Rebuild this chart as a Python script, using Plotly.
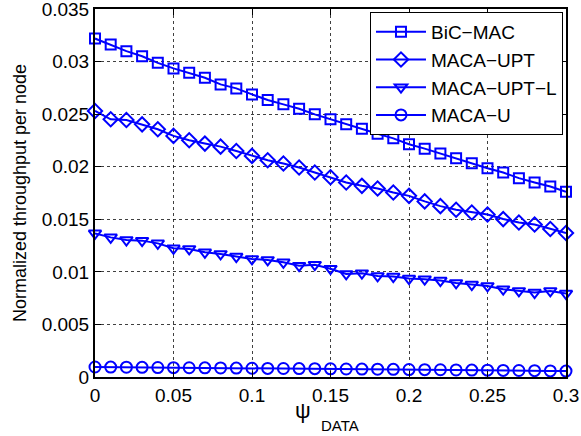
import plotly.graph_objects as go

psi = [round(0.01 * i, 2) for i in range(31)]

bic_mac = [0.03219, 0.03162, 0.03099, 0.03051, 0.02988, 0.02935, 0.02893, 0.02846, 0.02783, 0.02745,
           0.02688, 0.02634, 0.02593, 0.02551, 0.02498, 0.02451, 0.02403, 0.02362, 0.02314, 0.02270,
           0.02214, 0.02172, 0.02125, 0.02081, 0.02034, 0.01986, 0.01945, 0.01891, 0.01850, 0.01812, 0.01761]
maca_upt = [0.02530, 0.02451, 0.02444, 0.02403, 0.02356, 0.02293, 0.02252, 0.02220, 0.02191, 0.02150,
            0.02103, 0.02062, 0.02030, 0.01992, 0.01945, 0.01900, 0.01850, 0.01818, 0.01793, 0.01755,
            0.01723, 0.01670, 0.01625, 0.01591, 0.01565, 0.01545, 0.01502, 0.01470, 0.01450, 0.01408, 0.01370]
maca_upt_l = [0.01366, 0.01328, 0.01303, 0.01297, 0.01271, 0.01224, 0.01218, 0.01186, 0.01170, 0.01145,
              0.01123, 0.01113, 0.01091, 0.01059, 0.01068, 0.01030, 0.00980, 0.00987, 0.00961, 0.00955,
              0.00936, 0.00930, 0.00917, 0.00895, 0.00879, 0.00866, 0.00835, 0.00819, 0.00803, 0.00819, 0.00794]
maca_u = [0.00095, 0.00094, 0.00093, 0.00092, 0.00090, 0.00089, 0.00088, 0.00087, 0.00086, 0.00085,
          0.00083, 0.00082, 0.00081, 0.00080, 0.00079, 0.00078, 0.00076, 0.00075, 0.00074, 0.00073,
          0.00071, 0.00070, 0.00069, 0.00067, 0.00066, 0.00065, 0.00063, 0.00062, 0.00060, 0.00058, 0.00056]

names = ["BiC\u2212MAC", "MACA\u2212UPT", "MACA\u2212UPT\u2212L", "MACA\u2212U"]
series = [bic_mac, maca_upt, maca_upt_l, maca_u]
symbols = ["square-open", "diamond-open", "triangle-down-open", "circle-open"]
sizes = [10, 11, 11, 11]

x_ticks = [0, 0.05, 0.1, 0.15, 0.2, 0.25, 0.3]
x_ticktext = ["0", "0.05", "0.1", "0.15", "0.2", "0.25", "0.3"]
y_ticks = [0, 0.005, 0.01, 0.015, 0.02, 0.025, 0.03, 0.035]
y_ticktext = ["0", "0.005", "0.01", "0.015", "0.02", "0.025", "0.03", "0.035"]

blue = "rgb(0,0,255)"
fig = go.Figure()
for i, (nm, ys, sym, sz) in enumerate(zip(names, series, symbols, sizes)):
    fig.add_trace(go.Scatter(
        x=psi, y=ys, name=nm, mode="lines+markers", legendgroup=f"g{i}",
        line=dict(color=blue, width=2),
        marker=dict(symbol=sym, size=sz, color=blue, line=dict(color=blue, width=2)),
        cliponaxis=False,
    ))

font = "Liberation Sans, Arial, Helvetica, sans-serif"
axis_common = dict(
    showline=True, linecolor="black", linewidth=2, mirror="ticks",
    ticks="inside", ticklen=6, tickwidth=1, tickcolor="black",
    showgrid=True, gridcolor="rgba(0,0,0,0.75)", griddash="dot", gridwidth=1,
    zeroline=False, automargin=False, ticklabeloverflow="allow",
    tickfont=dict(size=19, color="black", family=font),
)
fig.update_xaxes(range=[0, 0.3], tickvals=x_ticks, ticktext=x_ticktext, **axis_common)
fig.update_yaxes(range=[0, 0.035], tickvals=y_ticks, ticktext=y_ticktext, **axis_common)

fig.add_annotation(text="Normalized throughput per node", xref="paper", yref="paper",
                   x=-0.159, y=0.5, textangle=-90, showarrow=False,
                   xanchor="center", yanchor="middle",
                   font=dict(size=18, color="black", family=font))
fig.add_annotation(text="\u03c8", xref="paper", yref="paper", x=0.4416, y=-0.0897,
                   xanchor="center", yanchor="middle",
                   showarrow=False, font=dict(size=22, color="black", family=font))
fig.add_annotation(text="DATA", xref="paper", yref="paper", x=0.520, y=-0.133,
                   xanchor="center", yanchor="middle",
                   showarrow=False, font=dict(size=15, color="black", family=font))

fig.update_layout(
    width=581, height=436,
    margin=dict(l=95, r=15, t=9, b=59),
    paper_bgcolor="white", plot_bgcolor="white",
    font=dict(family=font, color="black"),
    legend=dict(x=0.9936, y=0.992, xanchor="right", yanchor="top",
                bgcolor="white", bordercolor="black", borderwidth=1,
                font=dict(size=19, color="black", family=font),
                tracegroupgap=0, itemwidth=50),
)
fig.write_html("out.html", config={"displayModeBar": False},
               post_script="document.body.style.margin='0';document.body.style.overflow='hidden';")
